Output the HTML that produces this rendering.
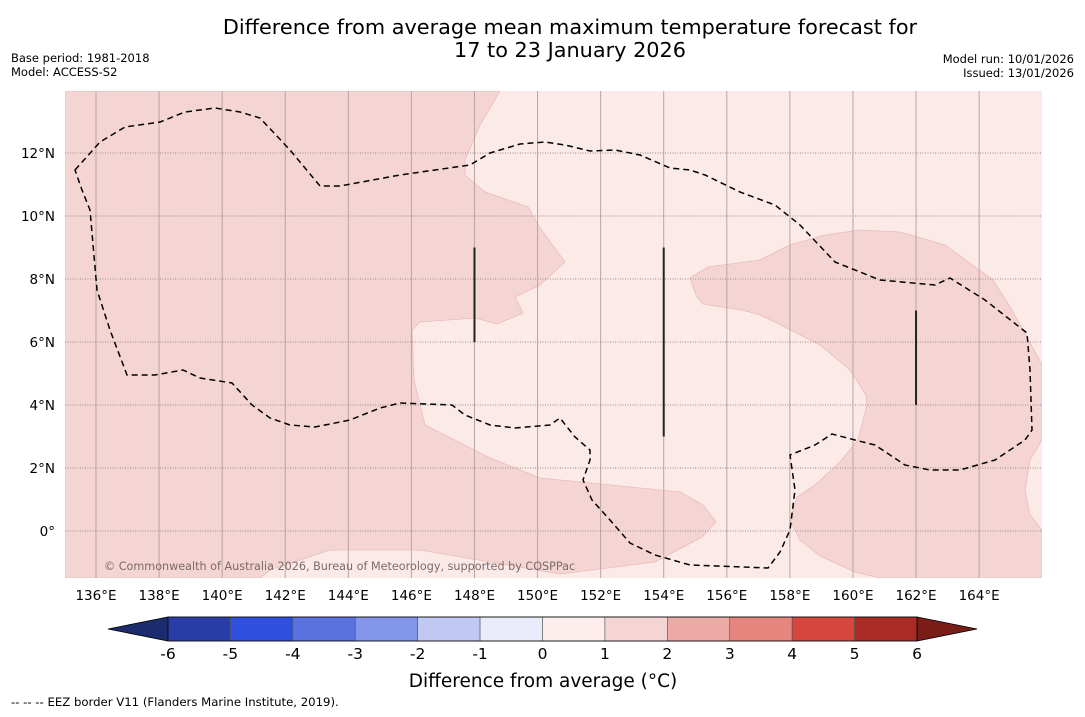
<!DOCTYPE html>
<html><head><meta charset="utf-8"><style>
body{margin:0;background:#fff;font-family:"DejaVu Sans","Liberation Sans",sans-serif;}
svg text{font-family:"DejaVu Sans","Liberation Sans",sans-serif;}
</style></head><body>
<svg id="c" width="1085" height="713" xmlns="http://www.w3.org/2000/svg">
<rect width="1085" height="713" fill="#fff"/>
<text x="570" y="34" font-size="20.8" text-anchor="middle">Difference from average mean maximum temperature forecast for</text>
<text x="570" y="57" font-size="20.8" text-anchor="middle">17 to 23 January 2026</text>
<text x="11" y="62" font-size="11.5">Base period: 1981-2018</text>
<text x="11" y="76" font-size="11.5">Model: ACCESS-S2</text>
<text x="1074" y="63" font-size="11.5" text-anchor="end">Model run: 10/01/2026</text>
<text x="1074" y="77" font-size="11.5" text-anchor="end">Issued: 13/01/2026</text>
<defs><clipPath id="pc"><rect x="65" y="91" width="977" height="487"/></clipPath></defs>
<g id="plot" clip-path="url(#pc)">
<rect x="65" y="91" width="977" height="487" fill="#fbeae8"/>
<path fill="#f5d5d3" stroke="#e8bcb9" stroke-width="0.8" d="M65,91 L500,91 480,125 465,160 465,175 485,192 528,207 540,228 565,262 540,285 515,297 523,313 497,324 475,318 420,322 412,330 414,380 425,425 490,458 540,478 610,485 680,492 703,505 716,522 702,537 655,562 560,574 420,550 330,550 270,570 260,578 65,578 Z"/>
<path fill="#f5d5d3" stroke="#e8bcb9" stroke-width="0.8" d="M690,278 L708,267 760,260 790,245 825,235 860,230 900,232 945,245 993,280 1012,310 1042,365 1042,440 1030,460 1025,490 1030,515 1042,530 1042,578 880,578 855,572 820,556 800,540 790,520 797,497 815,485 840,462 858,440 867,405 866,395 850,370 820,345 775,322 760,315 742,310 728,308 703,304 696,295 Z"/>
<g id="grid"></g>
<path fill="none" stroke="#000" stroke-width="1.5" stroke-dasharray="6,4" d="M75,170 L100,142 125,127 160,122 185,112 215,108 240,112 260,118 290,150 320,186 340,186 400,175 470,165 490,153 520,144 545,142 565,145 590,151 615,150 640,155 670,168 690,170 705,175 740,192 775,205 800,225 835,262 880,280 935,285 950,278 985,300 1027,333 1030,370 1032,430 1025,440 995,460 960,470 930,470 905,465 875,445 855,440 832,434 815,445 790,455 795,490 790,530 780,552 768,568 690,565 655,555 630,543 610,520 592,500 583,480 590,460 590,450 575,437 560,418 550,425 515,428 490,425 465,415 452,405 400,403 380,408 350,420 315,427 290,425 270,418 252,405 232,383 200,378 183,370 155,375 127,375 110,330 97,290 90,210 82,190 Z"/>
<g id="bars"></g>
<text x="104" y="570" font-size="11.2" fill="#7a6a6a">© Commonwealth of Australia 2026, Bureau of Meteorology, supported by COSPPac</text>
</g>
<g id="axes"></g>
<g id="cbar"></g>
<text x="543" y="687" font-size="18.5" text-anchor="middle">Difference from average (°C)</text>
<text x="11" y="706" font-size="11.7">--  --  -- EEZ border V11 (Flanders Marine Institute, 2019).</text>
</svg>
<script>
const lonTicks=[136,138,140,142,144,146,148,150,152,154,156,158,160,162,164];
const latTicks=[0,2,4,6,8,10,12];
const latLabels=["0°","2°N","4°N","6°N","8°N","10°N","12°N"];
const levels=[-6,-5,-4,-3,-2,-1,0,1,2,3,4,5,6];
const levelColors=["#2a3ca8","#2f4fdf","#5a72e0","#8396e9","#c1c9f3","#e9ebfa","#fdeeed","#f5d5d3","#ebaaa5","#e5857e","#d8473e","#aa2a24"];
const barLons=[148,154,162];
const barLatTop=[9,9,7];
const barLatBottom=[6,3,4];
const NS="http://www.w3.org/2000/svg";
const X=lon=>96+(lon-136)*31.54;
const Y=lat=>531-lat*31.5;
function mk(t,a,p){const e=document.createElementNS(NS,t);for(const k in a)e.setAttribute(k,a[k]);p.appendChild(e);return e;}
const grid=document.getElementById('grid'),axes=document.getElementById('axes'),bars=document.getElementById('bars'),cb=document.getElementById('cbar');
lonTicks.forEach(l=>{
 const ln=mk('line',{x1:X(l),x2:X(l),y1:91,y2:578,stroke:'#b8a4a4','stroke-width':1},grid);
 
 
 const t=mk('text',{x:X(l),y:600,'font-size':13.5,'text-anchor':'middle'},axes);
 t.textContent=l+'°E';
 
 
});
latTicks.forEach((l,i)=>{
 const ln=mk('line',{x1:65,x2:1042,y1:Y(l),y2:Y(l),stroke:'#9a8a8a','stroke-width':1,'stroke-dasharray':'1,1.5'},grid);
 
 
 const t=mk('text',{x:55,y:Y(l)+5,'font-size':13.5,'text-anchor':'end'},axes);
 t.textContent=latLabels[i];
 
 
});
barLons.forEach((l,i)=>{
 const b=mk('line',{x1:X(l),x2:X(l),y1:Y(barLatTop[i]),y2:Y(barLatBottom[i]),stroke:'#222','stroke-width':2},bars);
 
 
});
const cx0=168,cx1=917,cy0=617,cy1=641,w=(cx1-cx0)/(levels.length-1);
const L=mk('polygon',{points:`108,${(cy0+cy1)/2} ${cx0},${cy0} ${cx0},${cy1}`,fill:'#1c2a6e',stroke:'#000','stroke-width':0.8},cb);


const R=mk('polygon',{points:`977,${(cy0+cy1)/2} ${cx1},${cy0} ${cx1},${cy1}`,fill:'#7a1c18',stroke:'#000','stroke-width':0.8},cb);


levelColors.forEach((c,i)=>{
 const r=mk('rect',{x:cx0+i*w,y:cy0,width:w,height:cy1-cy0,fill:c,stroke:'#555','stroke-width':0.6},cb);
 
 
});
mk('rect',{x:cx0,y:cy0,width:cx1-cx0,height:cy1-cy0,fill:'none',stroke:'#000','stroke-width':0.8},cb);
levels.forEach((v,i)=>{
 const t=mk('text',{x:cx0+i*w,y:659,'font-size':15.5,'text-anchor':'middle'},cb);
 t.textContent=v;
 
 
});
</script>
</body></html>
